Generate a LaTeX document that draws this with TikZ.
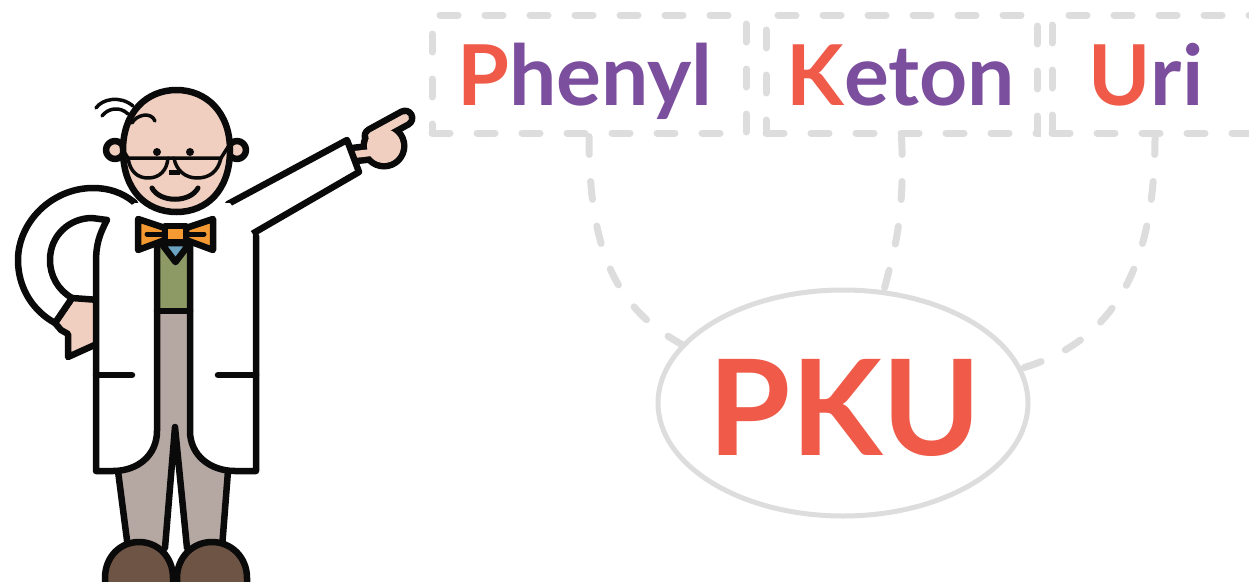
\documentclass[tikz,border=0pt]{standalone}
\usepackage{fontspec}
\setmainfont{Lato}
\usetikzlibrary{shapes.geometric}

\definecolor{pkured}{HTML}{EF5A49}
\definecolor{pkupurple}{HTML}{7B4F9E}
\definecolor{guide}{HTML}{DDDDDD}
\definecolor{skin}{HTML}{F0CFC0}
\definecolor{bow}{HTML}{F59A32}
\definecolor{shirt}{HTML}{6BA3C2}
\definecolor{vest}{HTML}{8E9A66}
\definecolor{trousers}{HTML}{B5A7A2}
\definecolor{shoe}{HTML}{6E5444}
\definecolor{ink}{HTML}{0A0A0A}

\tikzset{
  wordbox/.style={draw=guide, line width=7pt, dash pattern=on 18pt off 27pt,
    line cap=round, minimum height=118pt, inner sep=0pt},
  conn/.style={draw=guide, line width=7pt, dash pattern=on 18pt off 27pt, line cap=round},
  word/.style={anchor=base, inner sep=0pt, font=\fontsize{84}{84}\selectfont\bfseries},
  outline/.style={draw=ink, line width=6.5pt, line join=round, line cap=round},
  fine/.style={draw=ink, line width=3.5pt, line join=round, line cap=round},
}

\begin{document}
\begin{tikzpicture}[x=1pt, y=-1pt]
\useasboundingbox (0,0) rectangle (1249,581);

% ---------- word boxes ----------
\node[wordbox, minimum width=314pt] (b1) at (589,74) {};
\node[wordbox, minimum width=271pt] (b2) at (901.5,74) {};
\node[wordbox, minimum width=206pt] (b3) at (1155,74) {};

\node[word] (w1) at (585,105) {\color{pkured}P\color{pkupurple}henyl};
\node[word] (w2) at (901,105) {\color{pkured}K\color{pkupurple}eton};
\node[word] (w3) at (1146,105) {\color{pkured}U\color{pkupurple}ri};

% ---------- PKU ellipse ----------
\node[ellipse, draw=guide, line width=5pt, minimum width=370pt, minimum height=226pt,
      inner sep=0pt] (pku) at (843,403) {};
\node[anchor=base, inner sep=0pt, text=pkured,
      font=\fontsize{133}{133}\selectfont\bfseries] (pkutxt) at (845,455) {PKU};

% ---------- connectors ----------
\draw[conn] (b1.south) .. controls +(0,117) and +(-64,-35) .. (pku.160);
\draw[conn] (b2.south) .. controls +(4,87) and +(8,-34) .. (pku.70);
\draw[conn] (b3.south) .. controls +(0,147) and +(81,-24) .. (pku.11);

% ---------- professor ----------
\begin{scope}
\clip (0,0) rectangle (1249,581);

% pointing hand: outline first, then skin on top
\draw[ink, line width=21pt, line cap=round] (372,136) -- (405,118);
\fill[ink] (384,146) circle (23.5pt);
\draw[ink, line width=20pt] (350,155) -- (376,152);
\draw[skin, line width=8pt, line cap=round] (372,136) -- (405,118);
\fill[skin] (384,146) circle (17pt);
\draw[skin, line width=7pt] (350,155) -- (376,152);

% pointing sleeve
\fill[white] (228,204) -- (347,140) -- (359,172) -- (252,234) -- (225,240) -- cycle;
\draw[outline] (228,204) -- (347,140) -- (359,172) -- (252,234);

% hand on the hip
\filldraw[outline, fill=skin] (55,323) -- (72,298) -- (99,300) -- (99,343) -- (68,357)
  -- (68,334) -- (61,330) -- cycle;

% bent sleeve
\fill[white] (135,203) .. controls (122,192) and (108,188) .. (93,188)
  .. controls (52,188) and (18,222) .. (18,260)
  .. controls (18,288) and (33,311) .. (55,323) -- (72,298)
  .. controls (58,290) and (50,276) .. (50,260)
  .. controls (50,235) and (70,218) .. (92,218) -- (107,220) -- cycle;
\draw[outline] (135,203) .. controls (122,192) and (108,188) .. (93,188)
  .. controls (52,188) and (18,222) .. (18,260)
  .. controls (18,288) and (33,311) .. (55,323) -- (72,298)
  .. controls (58,290) and (50,276) .. (50,260)
  .. controls (50,235) and (70,218) .. (92,218) -- (107,220);

% trousers
\fill[trousers] (150,300) -- (197,300) -- (197,420) -- (232,420) -- (228,471) -- (222,548)
  -- (187,548) -- (175,427) -- (165,548) -- (128,548) -- (118,471) -- (115,420)
  -- (150,420) -- cycle;

% lab coat
\fill[white] (107,220) -- (135,203) -- (230,203) -- (252,233) -- (256,240) -- (256,471)
  -- (235,471) .. controls (210,471) and (190,455) .. (190,431) -- (190,300)
  -- (157,300) -- (157,431) .. controls (157,455) and (138,471) .. (113,471)
  -- (96,471) -- (96,262) .. controls (96,245) and (99,235) .. (107,220) -- cycle;

% vest and shirt
\fill[vest] (157,240) rectangle (190,311);
\draw[outline] (157,311) -- (190,311);
\filldraw[outline, fill=shirt] (161,243) -- (175.5,262) -- (190,243) -- cycle;

% legs
\draw[outline] (118,471) -- (128,548);
\draw[outline] (165,548) -- (175,427) -- (187,548);
\draw[outline] (228,471) -- (222,548);

% coat outline and pockets
\draw[outline] (107,220) .. controls (99,235) and (96,245) .. (96,262) -- (96,471)
  -- (113,471) .. controls (138,471) and (157,455) .. (157,431) -- (157,245);
\draw[outline] (190,245) -- (190,431) .. controls (190,455) and (210,471) .. (235,471)
  -- (256,471) -- (256,236);
\draw[outline] (96,375) -- (132,375);
\draw[outline] (218,375) -- (256,375);

% shoes
\filldraw[outline, fill=shoe] (105,595) -- (105,578) .. controls (105,557) and (120,542) .. (139,542)
  .. controls (158,542) and (173,557) .. (173,578) -- (173,595);
\filldraw[outline, fill=shoe] (177,595) -- (177,578) .. controls (177,557) and (193,542) .. (212,542)
  .. controls (231,542) and (247,557) .. (247,578) -- (247,595);

% bow tie
\filldraw[outline, fill=bow] (138,219) -- (165,228) -- (165,240) -- (138,250) -- cycle;
\filldraw[outline, fill=bow] (213,219) -- (186,228) -- (186,240) -- (213,250) -- cycle;
\draw[ink, line width=5pt, line cap=round] (147,234) -- (204,234);
\filldraw[outline, fill=bow] (165,226) rectangle (186,242);

% ears and head
\filldraw[outline, fill=skin] (115,150) circle (9pt);
\filldraw[outline, fill=skin] (237,150) circle (9pt);
\filldraw[outline, fill=skin] (123,150) .. controls (123,112) and (147,90) .. (176.5,90)
  .. controls (206,90) and (230,112) .. (230,150)
  .. controls (230,190) and (207,212) .. (176.5,212)
  .. controls (146,212) and (123,190) .. (123,150) -- cycle;

% hair
\draw[fine] (96,108) .. controls (102,99) and (120,95) .. (133,106);
\draw[fine] (102,116) .. controls (108,108) and (120,106) .. (128,114);
\draw[fine] (132,123) .. controls (136,115) and (151,111) .. (155,121);

% face
\fill[ink] (157,152) circle (4pt);
\fill[ink] (190,152) circle (4pt);
\draw[fine] (121,147) -- (128,158) -- (221,158) -- (228,147);
\draw[fine] (128,158) .. controls (130,172) and (138,178) .. (148,178)
  .. controls (160,178) and (167,170) .. (168,158);
\draw[fine] (174,158) .. controls (176,170) and (185,178) .. (197,178)
  .. controls (209,178) and (218,172) .. (221,158);
\fill[ink] (169,170) rectangle (180,175);
\draw[ink, line width=5pt, line cap=round] (152,188) .. controls (160,203) and (190,203) .. (198,188);
\end{scope}
\end{tikzpicture}
\end{document}
